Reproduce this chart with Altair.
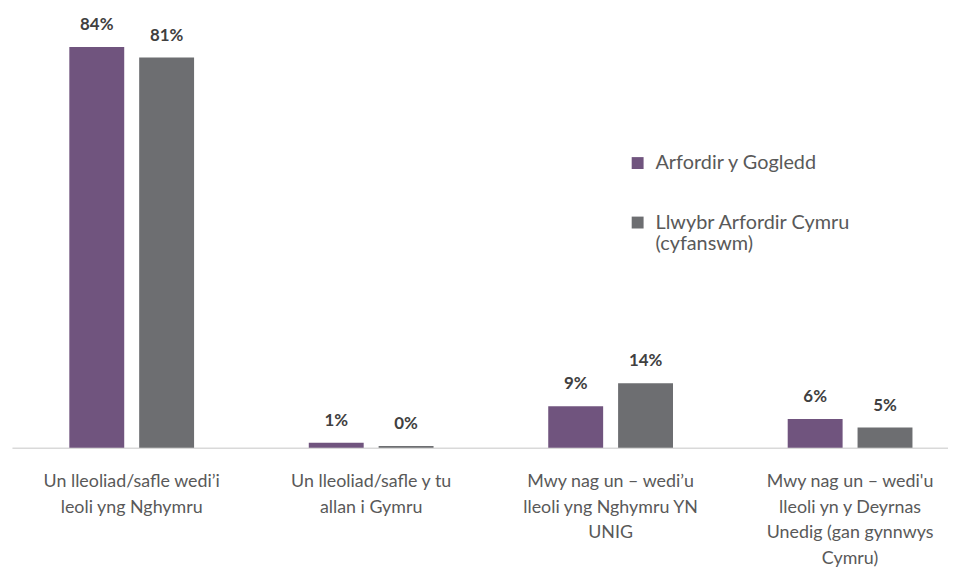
import altair as alt
import pandas as pd

categories = [
    "Un lleoliad/safle wedi’i|leoli yng Nghymru",
    "Un lleoliad/safle y tu|allan i Gymru",
    "Mwy nag un – wedi’u|lleoli yng Nghymru YN|UNIG",
    "Mwy nag un – wedi'u|lleoli yn y Deyrnas|Unedig (gan gynnwys|Cymru)",
]
series = ["Arfordir y Gogledd", "Llwybr Arfordir Cymru (cyfanswm)"]
values_gogledd = [84, 1.0, 8.7, 6.0]
values_cymru = [81.8, 0.35, 13.5, 4.2]
labels_gogledd = ["84%", "1%", "9%", "6%"]
labels_cymru = ["81%", "0%", "14%", "5%"]

rows = []
for c, v, l in zip(categories, values_gogledd, labels_gogledd):
    rows.append({"category": c, "series": series[0], "value": v, "label": l})
for c, v, l in zip(categories, values_cymru, labels_cymru):
    rows.append({"category": c, "series": series[1], "value": v, "label": l})
df = pd.DataFrame(rows)

FONT = "Lato"

x = alt.X(
    "category:N",
    sort=categories,
    scale=alt.Scale(range=[4, 970], paddingInner=0, paddingOuter=0),
    axis=alt.Axis(
        title=None,
        labelExpr="split(datum.label, '|')",
        labelAngle=0,
        labelFont=FONT,
        labelFontSize=18,
        labelColor="#595959",
        labelLineHeight=26,
        labelPadding=25,
        labelBaseline="top",
        labelLimit=400,
        ticks=False,
        domainColor="#D9D9D9",
        domainWidth=1.5,
        grid=False,
    ),
)
xo = alt.XOffset("series:N", sort=series, scale=alt.Scale(paddingInner=0.214, paddingOuter=0.821))
y = alt.Y("value:Q", scale=alt.Scale(domain=[0, 91.7], nice=False), axis=None)

bars = alt.Chart(df).mark_bar().encode(
    x=x,
    xOffset=xo,
    y=y,
    color=alt.Color(
        "series:N",
        sort=series,
        scale=alt.Scale(domain=series, range=["#70547E", "#6D6E71"]),
        legend=alt.Legend(
            title=None,
            orient="none",
            legendX=625,
            legendY=144,
            symbolType="square",
            symbolSize=144,
            symbolStrokeWidth=0,
            labelFont=FONT,
            labelFontSize=20,
            labelColor="#595959",
            labelOffset=8,
            labelLimit=400,
            rowPadding=40,
            labelExpr="datum.label == 'Llwybr Arfordir Cymru (cyfanswm)' ? ['Llwybr Arfordir Cymru', '\\u00a0', '(cyfanswm)'] : datum.label",
        ),
    ),
)

text = alt.Chart(df).mark_text(
    dy=-22, baseline="middle", font=FONT, fontSize=17, fontWeight="bold", color="#404040"
).encode(x=x, xOffset=xo, y=y, text="label:N")

chart = (
    alt.layer(bars, text)
    .properties(
        width=948,
        height=441,
        autosize=alt.AutoSizeParams(type="none"),
        padding={"left": 0, "top": 0, "right": 0, "bottom": 118},
    )
    .configure_view(stroke=None)
)

chart.save("out.html", embed_options={"renderer": "svg", "actions": False})
